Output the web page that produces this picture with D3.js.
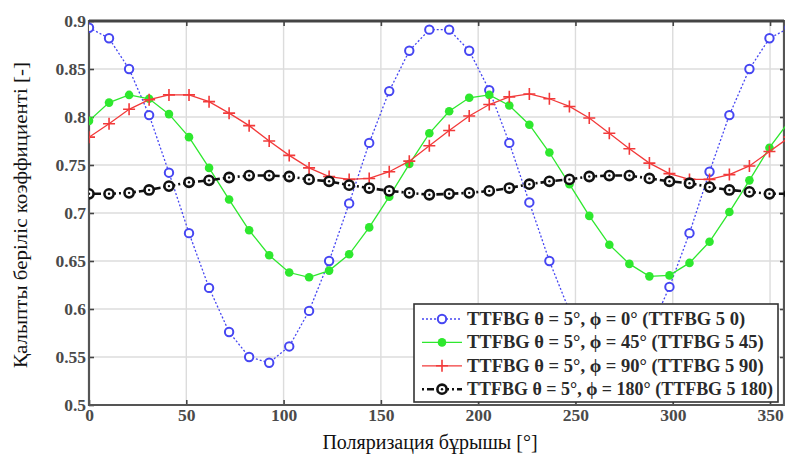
<!DOCTYPE html>
<html>
<head>
<meta charset="utf-8">
<script src="https://cdn.jsdelivr.net/npm/d3@7.9.0/dist/d3.min.js"></script>
<style>
  body { margin: 0; background: #fff; }
  svg { display: block; }
  text { font-family: "Liberation Serif", "DejaVu Serif", serif; }
</style>
</head>
<body>
<svg id="chart" width="785" height="455"></svg>
<script>
// polarisation angle (deg), 36 samples
const angles = [0, 10.3, 20.6, 30.9, 41.1, 51.4, 61.7, 72, 82.3, 92.6, 102.9, 113.1,
  123.4, 133.7, 144, 154.3, 164.6, 174.9, 185.1, 195.4, 205.7, 216, 226.3, 236.6,
  246.9, 257.1, 267.4, 277.7, 288, 298.3, 308.6, 318.9, 329.1, 339.4, 349.7, 360];

const phi0 = [0.893, 0.882, 0.850, 0.802, 0.742, 0.679, 0.622, 0.576, 0.550, 0.544, 0.561, 0.598,
  0.650, 0.710, 0.773, 0.827, 0.869, 0.891, 0.891, 0.869, 0.828, 0.773, 0.711, 0.650,
  0.598, 0.561, 0.544, 0.550, 0.576, 0.623, 0.679, 0.743, 0.802, 0.850, 0.882, 0.893];
const phi45 = [0.796, 0.815, 0.823, 0.819, 0.803, 0.779, 0.747, 0.714, 0.682, 0.656, 0.638, 0.633,
  0.640, 0.657, 0.685, 0.717, 0.751, 0.783, 0.806, 0.820, 0.823, 0.812, 0.792, 0.763,
  0.730, 0.697, 0.667, 0.647, 0.634, 0.635, 0.648, 0.670, 0.701, 0.734, 0.768, 0.796];
const phi90 = [0.779, 0.793, 0.808, 0.818, 0.823, 0.823, 0.816, 0.804, 0.791, 0.775, 0.760, 0.747,
  0.738, 0.735, 0.736, 0.743, 0.754, 0.770, 0.786, 0.801, 0.813, 0.821, 0.824, 0.819,
  0.811, 0.799, 0.783, 0.767, 0.752, 0.741, 0.735, 0.735, 0.740, 0.749, 0.764, 0.779];
const phi180 = [0.720, 0.720, 0.721, 0.724, 0.728, 0.732, 0.734, 0.737, 0.739, 0.739, 0.738, 0.735,
  0.733, 0.729, 0.726, 0.723, 0.721, 0.719, 0.720, 0.721, 0.723, 0.726, 0.730, 0.733,
  0.735, 0.738, 0.739, 0.739, 0.736, 0.733, 0.731, 0.727, 0.724, 0.722, 0.720, 0.720];

const xTicks = [0, 50, 100, 150, 200, 250, 300, 350];
const yTicks = [0.5, 0.55, 0.6, 0.65, 0.7, 0.75, 0.8, 0.85, 0.9];
const legendLabels = [
  'TTFBG θ = 5°, ϕ = 0° (TTFBG 5 0)',
  'TTFBG θ = 5°, ϕ = 45° (TTFBG 5 45)',
  'TTFBG θ = 5°, ϕ = 90° (TTFBG 5 90)',
  'TTFBG θ = 5°, ϕ = 180° (TTFBG 5 180)'
];

const series = [
  { values: phi0, color: '#4646f2', dash: '2,2', width: 1.3, marker: 'open' },
  { values: phi45, color: '#2ee82e', dash: null, width: 1.3, marker: 'dot' },
  { values: phi90, color: '#f23a3a', dash: null, width: 1.3, marker: 'plus' },
  { values: phi180, color: '#111', dash: '2,3,7,3', width: 2.6, marker: 'ring' }
];

const mLeft = 89, mTop = 21, mBottom = 405, mRight = 784;
const x = d3.scaleLinear().domain([0, 360]).range([mLeft, 789.5]);
const y = d3.scaleLinear().domain([0.5, 0.9]).range([mBottom, mTop]);

const svg = d3.select('#chart');
const serif = 'Liberation Serif';

svg.append('defs').append('clipPath').attr('id', 'plot')
  .append('rect').attr('x', mLeft).attr('y', mTop - 8).attr('width', 800).attr('height', mBottom - mTop + 8);

// grid
svg.append('g').selectAll('line').data(xTicks.slice(1)).join('line')
  .attr('x1', d => x(d)).attr('x2', d => x(d)).attr('y1', mTop).attr('y2', mBottom)
  .attr('stroke', '#dcdcdc').attr('stroke-width', 1.4);
svg.append('g').selectAll('line').data(yTicks.slice(1)).join('line')
  .attr('x1', mLeft).attr('x2', mRight).attr('y1', d => y(d)).attr('y2', d => y(d))
  .attr('stroke', '#dcdcdc').attr('stroke-width', 1.4);

// axes
const axStyle = g => {
  g.attr('font-family', serif);
  g.select('.domain').remove();
  g.selectAll('.tick line').attr('stroke', '#444').attr('stroke-width', 1.6);
  g.selectAll('.tick text').attr('font-family', serif).attr('font-weight', 'bold')
    .attr('font-size', 17.5).attr('fill', '#4a4a4a');
};
svg.append('g').attr('transform', `translate(0,${mBottom})`)
  .call(d3.axisBottom(x).tickValues(xTicks).tickSize(-5).tickPadding(4).tickFormat(d3.format('d')))
  .call(axStyle);
svg.append('g').attr('transform', `translate(0,${mTop})`)
  .call(d3.axisTop(x).tickValues(xTicks.slice(1)).tickSize(-5).tickFormat(''))
  .call(axStyle);
svg.append('g').attr('transform', `translate(${mLeft},0)`)
  .call(d3.axisLeft(y).tickValues(yTicks).tickSize(-5).tickPadding(3).tickFormat(d => d3.format('')(d)))
  .call(axStyle);
svg.append('g').attr('transform', `translate(${mRight},0)`)
  .call(d3.axisLeft(y).tickValues(yTicks.slice(1, -1)).tickSize(4).tickFormat(''))
  .call(axStyle);

// frame
svg.append('path')
  .attr('d', `M${mLeft},${mBottom}V${mTop}H${mRight}V${mBottom}Z`)
  .attr('fill', 'none').attr('stroke', '#555').attr('stroke-width', 2.2);
svg.append('line').attr('x1', mLeft).attr('x2', mRight).attr('y1', mTop).attr('y2', mTop)
  .attr('stroke', '#444').attr('stroke-width', 3);

function drawMarker(g, type, color) {
  if (type === 'open') {
    g.append('circle').attr('r', 4.2).attr('fill', '#fff').attr('stroke', color).attr('stroke-width', 2);
  } else if (type === 'dot') {
    g.append('circle').attr('r', 4.3).attr('fill', color);
  } else if (type === 'plus') {
    g.append('path').attr('d', 'M-6,0H6M0,-6V6').attr('stroke', color).attr('stroke-width', 1.6);
  } else {
    g.append('circle').attr('r', 4.6).attr('fill', '#fff').attr('stroke', color).attr('stroke-width', 2.6);
    g.append('circle').attr('r', 1.2).attr('fill', color);
  }
}

const plot = svg.append('g').attr('clip-path', 'url(#plot)');
const line = d3.line().x((d, i) => x(angles[i])).y(d => y(d));
series.forEach(s => {
  plot.append('path').datum(s.values).attr('d', line)
    .attr('fill', 'none').attr('stroke', s.color).attr('stroke-width', s.width)
    .attr('stroke-dasharray', s.dash);
  s.values.forEach((v, i) => {
    const g = plot.append('g').attr('transform', `translate(${x(angles[i])},${y(v)})`);
    drawMarker(g, s.marker, s.color);
  });
});

// legend
const lg = svg.append('g');
lg.append('rect').attr('x', 414).attr('y', 304).attr('width', 364).attr('height', 98)
  .attr('fill', '#fff').attr('stroke', '#333').attr('stroke-width', 1.6);
series.forEach((s, i) => {
  const ry = 319 + i * 23.4;
  lg.append('line').attr('x1', 422).attr('x2', 462).attr('y1', ry).attr('y2', ry)
    .attr('stroke', s.color).attr('stroke-width', s.width).attr('stroke-dasharray', s.dash);
  drawMarker(lg.append('g').attr('transform', `translate(442,${ry})`), s.marker, s.color);
  const t = lg.append('text').attr('x', 467).attr('y', ry + 6)
    .attr('font-family', serif).attr('font-size', 18.5).attr('font-weight', 'bold').attr('fill', '#2a2a2a')
    .text(legendLabels[i]);
  // keep the longest label inside the box
  if (t.node().getComputedTextLength() > 306) {
    t.attr('textLength', 306).attr('lengthAdjust', 'spacingAndGlyphs');
  }
});

// axis titles
svg.append('text').attr('x', 430).attr('y', 449).attr('text-anchor', 'middle')
  .attr('font-family', serif).attr('font-size', 20).attr('fill', '#111')
  .text('Поляризация бұрышы [°]');
svg.append('text').attr('transform', 'translate(27,215) rotate(-90)').attr('text-anchor', 'middle')
  .attr('font-family', serif).attr('font-size', 19).attr('fill', '#111')
  .attr('textLength', 306).attr('lengthAdjust', 'spacingAndGlyphs')
  .text('Қалыпты беріліс коэффициенті [-]');
</script>
</body>
</html>
